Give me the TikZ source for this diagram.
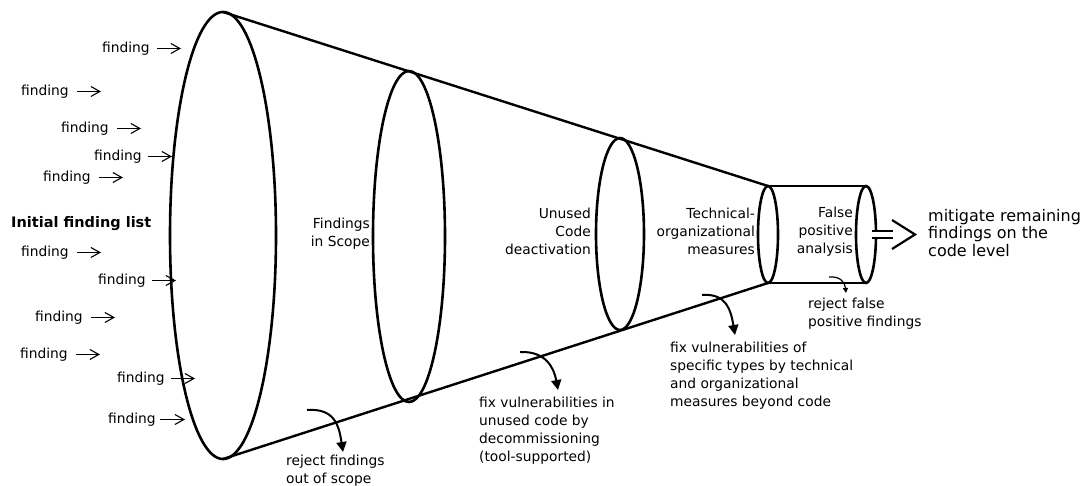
\documentclass[tikz,border=0pt]{standalone}
\usepackage{fontspec}
\setmainfont{DejaVu Sans}
\usetikzlibrary{arrows.meta,shapes.geometric}

\begin{document}
\begin{tikzpicture}[x=1pt,y=-1pt,
  stage/.style={ellipse, draw, line width=2.6pt, inner sep=0pt, outer sep=0pt},
  rim/.style={line width=2.4pt},
  lbl/.style={inner sep=0pt, font=\fontsize{13.8}{18}\selectfont, text=black},
  fnd/.style={lbl, anchor=west},
  feed/.style={line width=1.1pt, -{Straight Barb[length=9pt,width=10pt,line width=1.1pt]}},
  turn/.style={line width=2pt, -{Triangle[length=10pt,width=10pt]}},
  small turn/.style={line width=1.2pt, -{Triangle[length=5pt,width=5pt]}},
]
\useasboundingbox (0,0) rectangle (1088,486);

% funnel stages
\node[stage, minimum width=106pt, minimum height=447pt] (e1) at (223,235.5) {};
\node[stage, minimum width=72pt,  minimum height=331pt] (e2) at (409,236.5) {};
\node[stage, minimum width=48pt,  minimum height=192pt] (e3) at (620,234) {};
\node[stage, minimum width=20pt,  minimum height=97pt]  (e4) at (768,234.5) {};
\node[stage, minimum width=20pt,  minimum height=97pt]  (e5) at (866,234.5) {};

% cone and cylinder outline
\draw[rim] (e1.north) -- (e4.north);
\draw[rim] (e1.south) -- (e4.south);
\draw[rim] (e4.north) -- (e5.north);
\draw[rim] (e4.south) -- (e5.south);

% incoming findings
\foreach \i/\x/\y/\a/\b in {
  1/102/48.5/157/181, 2/21/91.5/77/101, 3/61/128.5/117/141, 4/94/156.5/148/172,
  5/43/177.5/99/123, 6/21/252.5/77/101, 7/98/280.5/152/176, 8/35/317.5/91/115,
  9/20/354.5/76/100, 10/117/378.5/171/195, 11/108/419.5/160/185} {
  \node[fnd] (f\i) at (\x,\y) {finding};
  \coordinate (fa\i) at (\a,\y);
  \coordinate (fb\i) at (\b,\y);
  \draw[feed] (fa\i) -- (fb\i);
}

\node[lbl, anchor=west, font=\fontsize{14.5}{18}\selectfont\bfseries] (init) at (11,224) {Initial finding list};

% stage names
\node[lbl, anchor=north east, align=right] (s2) at (370,218) {Findings\\in Scope};
\node[lbl, anchor=north east, align=right] (s3) at (591,208) {Unused\\Code\\deactivation};
\node[lbl, anchor=north east, align=right] (s4) at (755,208) {Technical-\\organizational\\measures};
\node[lbl, anchor=north east, align=right] (s5) at (853,207) {False\\positive\\analysis};

% outgoing result
\coordinate (o1) at (872,234.5);
\coordinate (o2) at (893,234.5);
\coordinate (ch1) at (892,220);
\coordinate (ch2) at (915,234.5);
\coordinate (ch3) at (892,249);
\draw[line width=2pt, double distance=5.5pt] (o1) -- (o2);
\draw[line width=2.2pt, miter limit=10] (ch1) -- (ch2) -- (ch3);
\node[lbl, anchor=north west, align=left, font=\fontsize{16}{17.5}\selectfont] (out) at (928,209)
  {mitigate remaining\\findings on the\\code level};

% side exits
\coordinate (r1s) at (307,410); \coordinate (r1t) at (343,452);
\draw[turn] (r1s) .. controls +(28,-2) and +(-4,-26) .. (r1t);
\node[lbl, anchor=north west, align=left] (r1) at (286,455) {reject findings\\out of scope};

\coordinate (r2s) at (520,352); \coordinate (r2t) at (558,390);
\draw[turn] (r2s) .. controls +(26,-1) and +(-4,-22) .. (r2t);
\node[lbl, anchor=north west, align=left] (r2) at (479,397)
  {fix vulnerabilities in\\unused code by\\decommissioning\\(tool-supported)};

\coordinate (r3s) at (702,295); \coordinate (r3t) at (735,335);
\draw[turn] (r3s) .. controls +(25,-2) and +(-4,-24) .. (r3t);
\node[lbl, anchor=north west, align=left] (r3) at (670,342)
  {fix vulnerabilities of\\specific types by technical\\and organizational\\measures beyond code};

\coordinate (r4s) at (829,277); \coordinate (r4t) at (846,293);
\draw[small turn] (r4s) .. controls +(12,-1) and +(-1,-10) .. (r4t);
\node[lbl, anchor=north west, align=left] (r4) at (808,298) {reject false\\positive findings};
\end{tikzpicture}
\end{document}
